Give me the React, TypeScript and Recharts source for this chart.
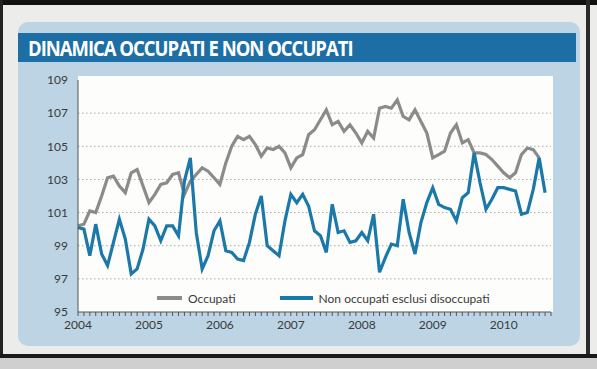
import { CartesianGrid, Line, LineChart, XAxis, YAxis } from 'recharts';

const YEARS = ['2004', '2005', '2006', '2007', '2008', '2009', '2010'];

// indice mensile, gen 2004 = 100 circa
const OCCUPATI = [
  100.2, 100.3, 101.1, 101.0, 102.0, 103.1, 103.2, 102.6, 102.2, 103.4, 103.6, 102.6,
  101.6, 102.1, 102.7, 102.8, 103.3, 103.4, 102.1, 102.9, 103.3, 103.7, 103.5, 103.1,
  102.7, 104.0, 105.0, 105.6, 105.4, 105.6, 105.1, 104.4, 104.9, 104.8, 105.0, 104.6,
  103.7, 104.3, 104.5, 105.7, 106.0, 106.6, 107.2, 106.3, 106.5, 105.9, 106.3, 105.8,
  105.2, 105.9, 105.5, 107.3, 107.4, 107.3, 107.8, 106.8, 106.6, 107.2, 106.5, 105.8,
  104.3, 104.5, 104.7, 105.8, 106.3, 105.2, 105.4, 104.6, 104.6, 104.5, 104.2, 103.8,
  103.4, 103.1, 103.4, 104.5, 104.9, 104.8, 104.3,
];

const NON_OCCUPATI = [
  100.1, 100.0, 98.4, 100.3, 98.5, 97.8, 99.2, 100.6, 99.4, 97.3, 97.6, 98.8,
  100.6, 100.2, 99.3, 100.2, 100.2, 99.6, 102.9, 104.3, 99.8, 97.6, 98.4, 99.9,
  100.5, 98.7, 98.6, 98.2, 98.1, 99.2, 100.9, 102.0, 99.0, 98.7, 98.4, 100.5,
  102.1, 101.6, 102.1, 101.4, 99.9, 99.6, 98.6, 101.5, 99.8, 99.9, 99.2, 99.3,
  99.8, 99.3, 100.9, 97.4, 98.3, 99.1, 99.0, 101.8, 99.8, 98.5, 100.4, 101.6,
  102.5, 101.5, 101.3, 101.2, 100.5, 101.9, 102.2, 104.6, 102.8, 101.2, 101.8, 102.5,
  102.5, 102.4, 102.3, 100.9, 101.0, 102.4, 104.3, 102.2,
];

const Y_TICKS = [95, 97, 99, 101, 103, 105, 107, 109];
const GRID_VALUES = [97, 99, 101, 103, 105, 107];
const MONTH_TICKS = Array.from({ length: 81 }, (_, i) => i);

const data = NON_OCCUPATI.map((v, i) => ({
  m: i,
  occ: OCCUPATI[i] ?? null,
  non: v,
}));

const GRAY = '#8b8b8b';
const BLUE = '#1b79a9';
const FONT = 'Lato, "Open Sans", sans-serif';

function LegendBox() {
  const item = (color: string, label: string, w: number) => (
    <span style={{ display: 'inline-flex', alignItems: 'center', marginRight: 44 }}>
      <span style={{ display: 'inline-block', width: w, height: 4, background: color, marginRight: 6 }} />
      <span>{label}</span>
    </span>
  );
  return (
    <div
      style={{
        position: 'absolute',
        left: 157,
        top: 288,
        fontFamily: FONT,
        fontSize: 12,
        color: '#3a3a3a',
        whiteSpace: 'nowrap',
      }}
    >
      {item(GRAY, 'Occupati', 25)}
      {item(BLUE, 'Non occupati esclusi disoccupati', 33)}
    </div>
  );
}

export default function App() {
  return (
    <div style={{ position: 'relative', width: 597, height: 369, background: '#ececea', overflow: 'hidden' }}>
      <style>{'body{margin:0}'}</style>
      {/* bordi della scansione */}
      <div style={{ position: 'absolute', left: 0, top: 0, width: 597, height: 5, background: '#111' }} />
      <div style={{ position: 'absolute', left: 0, top: 0, width: 3, height: 369, background: '#222' }} />
      <div style={{ position: 'absolute', left: 586, top: 0, width: 4, height: 369, background: '#2a2a2a' }} />
      <div style={{ position: 'absolute', left: 0, top: 354, width: 597, height: 4, background: '#1a1a1a' }} />
      <div style={{ position: 'absolute', left: 0, top: 358, width: 597, height: 11, background: '#cfcfcf' }} />
      {/* pannello */}
      <div
        style={{
          position: 'absolute',
          left: 18,
          top: 22,
          width: 562,
          height: 324,
          background: '#bcd4e4',
          borderRadius: 10,
        }}
      />
      <div
        style={{
          position: 'absolute',
          left: 18,
          top: 33,
          width: 558,
          height: 29,
          background: '#1c6ea5',
        }}
      />
      <div
        style={{
          position: 'absolute',
          left: 28,
          top: 33,
          height: 29,
          lineHeight: '29px',
          color: '#fff',
          fontFamily: '"Open Sans", sans-serif',
          fontWeight: 700,
          fontSize: 22,
          letterSpacing: -1.2,
          transform: 'scaleX(0.84)',
          transformOrigin: 'left center',
          whiteSpace: 'nowrap',
        }}
      >
        DINAMICA OCCUPATI E NON OCCUPATI
      </div>
      {/* fondo bianco del grafico, un po' sopra il 109 */}
      <div style={{ position: 'absolute', left: 78, top: 76, width: 475, height: 236, background: '#fdfdfb' }} />
      <div style={{ position: 'absolute', left: 0, top: 0 }}>
        <LineChart
          width={597}
          height={369}
          data={data}
          margin={{ top: 80, right: 46, bottom: 27, left: 44 }}
        >
          <CartesianGrid
            horizontal
            vertical={false}
            horizontalValues={GRID_VALUES}
            stroke="#a9a9a9"
            strokeDasharray="1.5 2.5"
          />
          <XAxis
            dataKey="m"
            type="number"
            domain={[0, 80]}
            ticks={MONTH_TICKS}
            interval={0}
            height={30}
            tickFormatter={(v: number) => (v % 12 === 0 ? YEARS[v / 12] ?? '' : '')}
            tickSize={4}
            tickMargin={4}
            axisLine={{ stroke: '#555' }}
            tickLine={{ stroke: '#555' }}
            tick={{ fill: '#3a3a3a', fontSize: 12, fontFamily: FONT }}
          />
          <YAxis
            type="number"
            domain={[95, 109]}
            ticks={Y_TICKS}
            interval={0}
            width={34}
            tickLine={false}
            tickMargin={4}
            axisLine={{ stroke: '#555' }}
            tick={{ fill: '#3a3a3a', fontSize: 12, fontFamily: FONT }}
          />
          <Line
            type="linear"
            dataKey="occ"
            stroke={GRAY}
            strokeWidth={3.2}
            dot={false}
            isAnimationActive={false}
            connectNulls={false}
          />
          <Line
            type="linear"
            dataKey="non"
            stroke={BLUE}
            strokeWidth={3.2}
            dot={false}
            isAnimationActive={false}
          />
        </LineChart>
      </div>
      <LegendBox />
    </div>
  );
}
